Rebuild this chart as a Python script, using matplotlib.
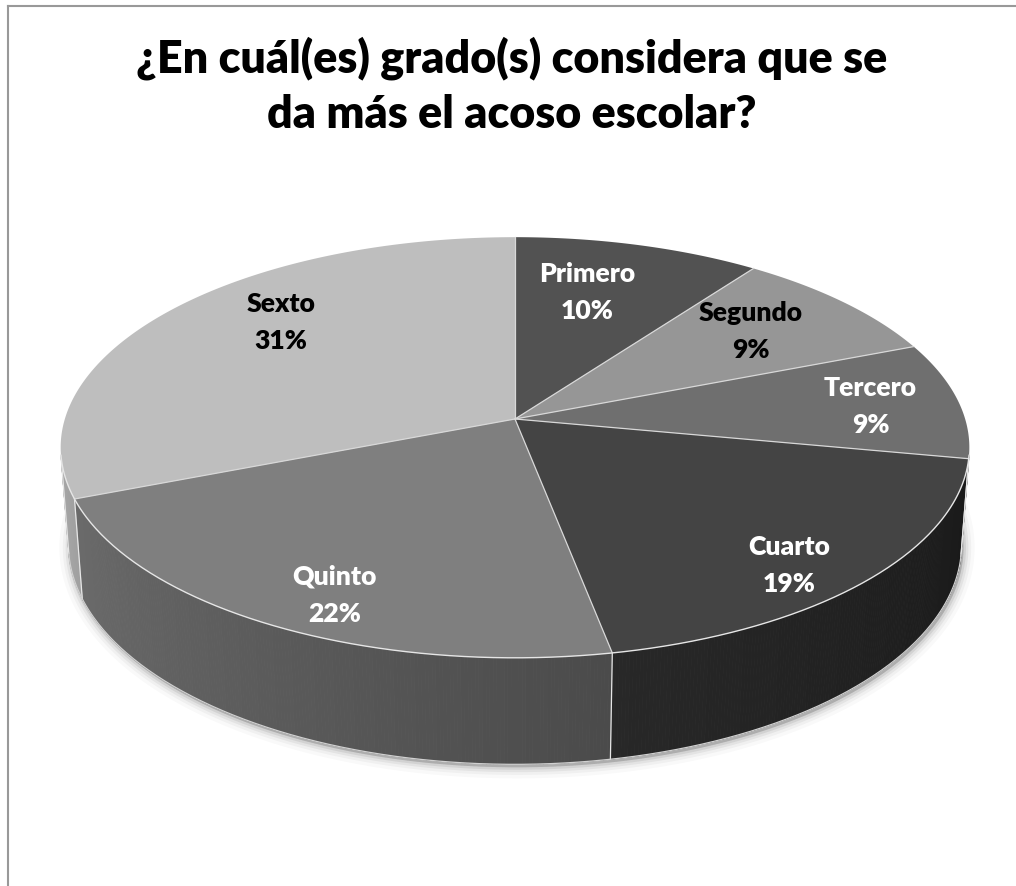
import numpy as np
import matplotlib
matplotlib.use("Agg")
import matplotlib.pyplot as plt
from matplotlib.patches import Polygon
from matplotlib.collections import PolyCollection
from matplotlib.colors import to_rgb
from matplotlib.lines import Line2D

# ---------------- data ----------------
categories = ["Primero", "Segundo", "Tercero", "Cuarto", "Quinto", "Sexto"]
values = [10, 9, 9, 19, 22, 31]
title_lines = ["¿En cuál(es) grado(s) considera que se", "da más el acoso escolar?"]

# ---------------- style ----------------
top_colors = ["#525252", "#969696", "#6f6f6f", "#444444", "#7f7f7f", "#bebebe"]
label_colors = ["white", "black", "white", "white", "white", "black"]
label_r = [0.70, 0.72, 0.80, 0.85, 0.84, 0.75]
label_dtheta = [-3.6, -1.7, 0.5, 4.1, -3.4, 8.1]  # degrees
FONT = "Lato"
WEIGHT = "heavy"

W, H = 1016, 887
CX, CY = 515, 420          # pixel position of the pie centre
F = 2953.0                 # projection scale (px)
L = 6.56                   # camera distance (pie radii)
ALPHA = np.radians(27.3)   # elevation
DEPTH = 0.245              # pie thickness (radii)
SA, CA = np.sin(ALPHA), np.cos(ALPHA)


def proj(theta, r=1.0, hgt=0.0):
    theta = np.asarray(theta, dtype=float)
    X = r * np.sin(theta)
    D = r * np.cos(theta)
    z = L + D * CA - hgt * SA
    return F * X / z, F * (D * SA + hgt * CA) / z


fig = plt.figure(figsize=(W / 100, H / 100), dpi=100)
ax = fig.add_axes([0, 0, 1, 1])
ax.set_xlim(-CX, W - CX)
ax.set_ylim(CY - H, CY)
ax.axis("off")

vals = np.array(values, dtype=float)
frac = vals / vals.sum()
bounds = np.concatenate([[0], np.cumsum(frac)]) * 2 * np.pi

th_v0 = np.arccos(-1.0 / (L * CA))
th_v1 = 2 * np.pi - th_v0

# ---- soft shadow under the pie ----
tt = np.linspace(0, 2 * np.pi, 400)
bx, by = proj(tt, 1.0, -DEPTH)
for lw, a in [(16, 0.025), (11, 0.035), (7, 0.05), (3.5, 0.07)]:
    ax.add_patch(Polygon(np.column_stack([bx + 2, by - 3]), closed=True,
                         facecolor=(0, 0, 0, a), edgecolor=(0, 0, 0, a),
                         linewidth=lw, joinstyle="round", zorder=1))


def shade(theta):
    d = np.degrees(theta)
    return np.clip(0.59 + 0.0032 * (d - 170.0), 0.30, 0.95)


# ---- side walls ----
for i in range(len(values)):
    a0 = max(bounds[i], th_v0)
    a1 = min(bounds[i + 1], th_v1)
    if a1 <= a0:
        continue
    n = max(2, int(np.degrees(a1 - a0) / 0.4) + 1)
    ts = np.linspace(a0, a1, n)
    base = np.array(to_rgb(top_colors[i]))
    polys, cols = [], []
    for k in range(n - 1):
        t0, t1 = ts[k], ts[k + 1]
        x0t, y0t = proj(t0, 1, 0)
        x1t, y1t = proj(t1, 1, 0)
        x0b, y0b = proj(t0, 1, -DEPTH)
        x1b, y1b = proj(t1, 1, -DEPTH)
        polys.append([(x0t, y0t), (x1t, y1t), (x1b, y1b), (x0b, y0b)])
        cols.append(tuple(np.clip(base * shade(0.5 * (t0 + t1)), 0, 1)))
    ax.add_collection(PolyCollection(polys, facecolors=cols, edgecolors=cols,
                                     linewidths=0.6, zorder=2))

# side edges
edge_col = "#e6e6e6"
for b in list(bounds[1:-1]) + [th_v0, th_v1]:
    if th_v0 <= b <= th_v1:
        x0, y0 = proj(b, 1, 0)
        x1, y1 = proj(b, 1, -DEPTH)
        ax.plot([x0, x1], [y0, y1], color=edge_col, lw=0.9, zorder=3)
tv = np.linspace(th_v0, th_v1, 300)
xb, yb = proj(tv, 1, -DEPTH)
ax.plot(xb, yb, color="#d0d0d0", lw=0.9, zorder=3)

# ---- top face ----
for i in range(len(values)):
    ts = np.linspace(bounds[i], bounds[i + 1], 200)
    xs, ys = proj(ts, 1, 0)
    pts = np.column_stack([np.concatenate([[0], xs]), np.concatenate([[0], ys])])
    ax.add_patch(Polygon(pts, closed=True, facecolor=top_colors[i],
                         edgecolor="none", zorder=4))
for b in bounds[:-1]:
    x1, y1 = proj(b, 1, 0)
    ax.plot([0, x1], [0, y1], color="#d8d8d8", lw=0.9, zorder=5)
xr, yr = proj(tv, 1, 0)
ax.plot(xr, yr, color=edge_col, lw=1.0, zorder=5)

# ---- labels ----
renderer = fig.canvas.get_renderer()
probe = fig.text(0, 0, "Primero", fontsize=10, fontweight=WEIGHT, family=FONT)
lab_size = 10 * 97.0 / probe.get_window_extent(renderer).width
probe.remove()
for i, (cat, v) in enumerate(zip(categories, values)):
    mid = 0.5 * (bounds[i] + bounds[i + 1]) + np.radians(label_dtheta[i])
    lx, ly = proj(mid, label_r[i], 0)
    pct = 100 * frac[i]
    ax.text(lx, ly + 10, cat, ha="center", va="baseline", fontsize=lab_size,
            fontweight=WEIGHT, family=FONT, color=label_colors[i], zorder=6)
    ax.text(lx, ly - 27, f"{pct:.0f}%", ha="center", va="baseline",
            fontsize=lab_size, fontweight=WEIGHT, family=FONT,
            color=label_colors[i], zorder=6)

# ---- title ----
t1 = fig.text(512 / W, 1 - 72 / H, title_lines[0], ha="center", va="baseline",
              fontsize=30, fontweight=WEIGHT, family=FONT, color="black")
w1 = t1.get_window_extent(renderer).width
tsize = 30 * 750.0 / w1
t1.set_fontsize(tsize)
fig.text(512 / W, 1 - 128 / H, title_lines[1], ha="center", va="baseline",
         fontsize=tsize, fontweight=WEIGHT, family=FONT, color="black")

# ---- chart frame (left and top edges visible) ----
fig.add_artist(Line2D([7.5 / W, 7.5 / W], [0, 1 - 6.5 / H], color="#999999", lw=1.5))
fig.add_artist(Line2D([7.5 / W, 1], [1 - 6.5 / H, 1 - 6.5 / H], color="#999999", lw=1.5))

fig.savefig("out.png", dpi=100, facecolor="white")
